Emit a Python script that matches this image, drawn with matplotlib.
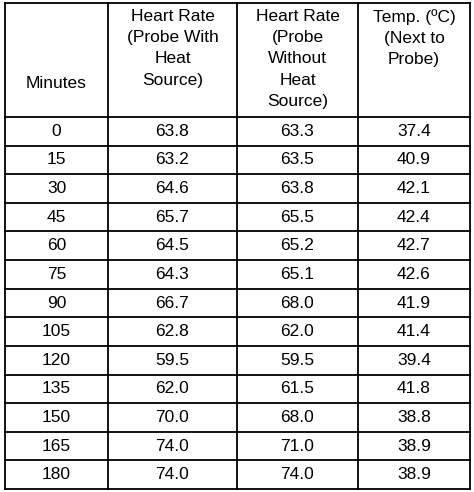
import matplotlib
matplotlib.use("Agg")
import matplotlib.pyplot as plt

headers = ["Minutes", "Heart Rate\n(Probe With\nHeat\nSource)", "Heart Rate\n(Probe\nWithout\nHeat\nSource)", "Temp. (ºC)\n(Next to\nProbe)"]
minutes = [0, 15, 30, 45, 60, 75, 90, 105, 120, 135, 150, 165, 180]
hr_with = [63.8, 63.2, 64.6, 65.7, 64.5, 64.3, 66.7, 62.8, 59.5, 62.0, 70.0, 74.0, 74.0]
hr_without = [63.3, 63.5, 63.8, 65.5, 65.2, 65.1, 68.0, 62.0, 59.5, 61.5, 68.0, 71.0, 74.0]
temp = [37.4, 40.9, 42.1, 42.4, 42.7, 42.6, 41.9, 41.4, 39.4, 41.8, 38.8, 38.9, 38.9]

W, H = 474, 492
fig = plt.figure(figsize=(W/100, H/100), dpi=100)
ax = fig.add_axes([0, 0, 1, 1])
ax.set_xlim(0, W); ax.set_ylim(H, 0); ax.axis("off")

xs = [5, 108, 237, 358, 470]
top, hdr_bot, bot = 3, 117, 489
n = len(minutes)
rh = (bot - hdr_bot) / n
lw = 1.3
for x in xs:
    ax.plot([x, x], [top, bot], color="black", lw=lw)
ax.plot([xs[0], xs[-1]], [top, top], color="black", lw=lw)
ax.plot([xs[0], xs[-1]], [hdr_bot, hdr_bot], color="black", lw=lw)
for i in range(n):
    y = hdr_bot + (i + 1) * rh
    ax.plot([xs[0], xs[-1]], [y, y], color="black", lw=lw)

fs = 12.5
fam = ["Liberation Sans", "DejaVu Sans"]
cx = [(xs[i] + xs[i+1]) / 2 for i in range(4)]
ax.text(cx[0], 84, headers[0], ha="center", va="center", fontsize=fs, family=fam)
for j in range(1, 4):
    ax.text(cx[j], 9, headers[j], ha="center", va="top", fontsize=fs, family=fam, linespacing=1.52)
for i in range(n):
    y = hdr_bot + (i + 0.5) * rh
    vals = [str(minutes[i]), f"{hr_with[i]:.1f}", f"{hr_without[i]:.1f}", f"{temp[i]:.1f}"]
    for j, v in enumerate(vals):
        ax.text(cx[j], y, v, ha="center", va="center", fontsize=fs, family=fam)

fig.savefig("out.png", dpi=100)
